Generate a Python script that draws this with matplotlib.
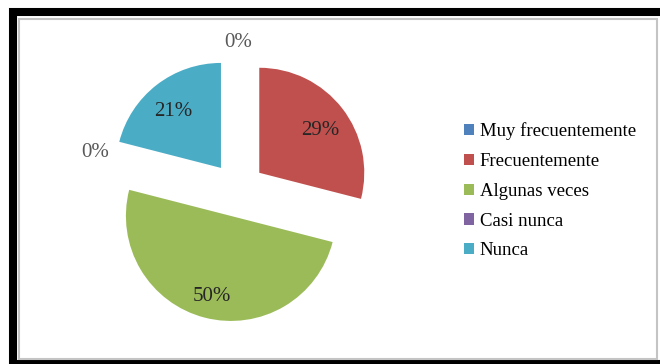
import matplotlib.pyplot as plt
from matplotlib.patches import Rectangle
import numpy as np

categorias = ["Muy frecuentemente", "Frecuentemente", "Algunas veces", "Casi nunca", "Nunca"]
porcentajes = [0, 29, 50, 0, 21]
colores = ["#4F81BD", "#C0504D", "#9BBB59", "#8064A2", "#4BACC6"]

plt.rcParams["font.family"] = ["Liberation Serif", "DejaVu Serif"]

W, H = 660, 364
fig = plt.figure(figsize=(W / 100, H / 100), dpi=100)

# marco del grafico
fig.patches.append(Rectangle((12.5 / W, 0), (W + 20) / W, (H - 12) / H, transform=fig.transFigure,
                             fill=False, edgecolor="black", linewidth=5.8, zorder=0))
fig.patches.append(Rectangle((19 / W, 5 / H), 638 / W, (H - 24) / H, transform=fig.transFigure,
                             fill=False, edgecolor="#c4c4c4", linewidth=1.5, zorder=0))

ax = fig.add_axes([69.7 / W, 6.5 / H, 336 / W, 336 / H])

wedges, textos, pcts = ax.pie(porcentajes, colors=colores, startangle=90, counterclock=False,
                              explode=[0.26] * 5, autopct="%1.0f%%", pctdistance=0.74,
                              radius=1, textprops={"fontsize": 15, "color": "#262626"},
                              wedgeprops={"linewidth": 0})
ax.set_xlim(-1.6, 1.6)
ax.set_ylim(-1.6, 1.6)
ax.set_aspect("equal")
ax.axis("off")

# etiquetas de las categorias con 0% fuera del pastel
for w, t, v in zip(wedges, pcts, porcentajes):
    if v == 0:
        ang = np.deg2rad(w.theta1)
        cx, cy = w.center
        t.set_position((cx + 1.14 * np.cos(ang), cy + 1.14 * np.sin(ang)))
        t.set_color("#595959")
    else:
        x, y = t.get_position()
        t.set_position((x, y - 0.05))

fig.legend(wedges, categorias, loc="center left", bbox_to_anchor=(464 / W, (H - 191) / H),
           frameon=False, fontsize=13.5, handlelength=0.55, handleheight=0.55,
           handletextpad=0.3, labelspacing=0.68, borderpad=0, borderaxespad=0)

fig.savefig("out.png", dpi=100)
